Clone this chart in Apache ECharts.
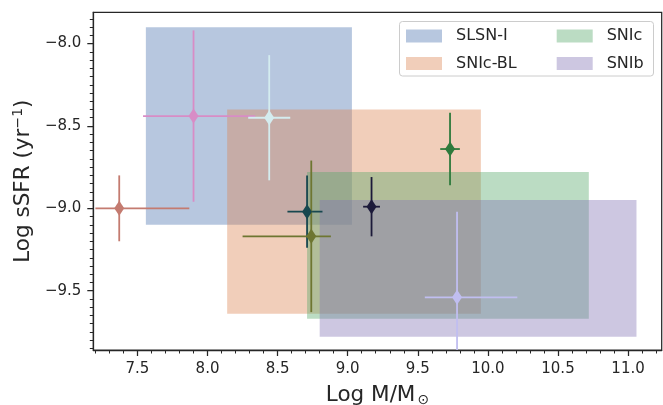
<!DOCTYPE html>
<html>
<head>
<meta charset="utf-8">
<script src="https://cdn.jsdelivr.net/npm/echarts@6/dist/echarts.min.js"></script>
<style>
  html, body { margin: 0; padding: 0; background: #fff; }
  #chart { width: 663px; height: 405px; }
</style>
</head>
<body>
<div id="chart"></div>
<script>
// shaded regions per SN class
const regionNames = ['SLSN-I', 'SNIc-BL', 'SNIc', 'SNIb'];
const regionMassLo = [7.56, 8.14, 8.71, 8.80];
const regionMassHi = [9.03, 9.95, 10.72, 11.06];
const regionSsfrLo = [-9.10, -9.64, -9.67, -9.78];
const regionSsfrHi = [-7.90, -8.40, -8.78, -8.95];
const regionColors = ['rgba(76,114,176,0.4)', 'rgba(221,132,82,0.4)', 'rgba(85,168,104,0.4)', 'rgba(129,114,179,0.4)'];

// individual hosts with error bars
const pointMass = [7.37, 7.90, 8.44, 8.71, 8.74, 9.17, 9.73, 9.78];
const pointSsfr = [-9.00, -8.44, -8.45, -9.02, -9.17, -8.99, -8.64, -9.54];
const massErrLo = [0.17, 0.36, 0.15, 0.14, 0.49, 0.06, 0.07, 0.23];
const massErrHi = [0.50, 0.44, 0.15, 0.11, 0.14, 0.06, 0.07, 0.43];
const ssfrErrLo = [0.20, 0.52, 0.38, 0.22, 0.46, 0.18, 0.22, 0.52];
const ssfrErrHi = [0.20, 0.52, 0.38, 0.22, 0.46, 0.18, 0.22, 0.52];
const pointColors = ['#c47b70', '#d88cc6', '#d4ecef', '#17474f', '#6e7631', '#1c1a3a', '#2e7a3c', '#c0bef0'];

// ticks
const xTickLabels = [7.5, 8.0, 8.5, 9.0, 9.5, 10.0, 10.5, 11.0];
const yTickLabels = [-9.5, -9.0, -8.5, -8.0];
const xRange = [7.185, 11.24];
const yRange = [-9.86, -7.81];

const xMinor = [];
for (let v = 72; v <= 112; v++) xMinor.push(v / 10);
const yMinor = [];
for (let v = -197; v <= -157; v++) yMinor.push(v / 20);

const ink = '#262626';
const font = 'DejaVu Sans, sans-serif';
const fmt = v => v.toFixed(1).replace('-', '\u2212');

const chart = echarts.init(document.getElementById('chart'));

const regionSeries = regionNames.map((name, i) => ({
  name,
  type: 'custom',
  z: 1,
  itemStyle: { color: regionColors[i] },
  encode: { x: [0, 2], y: [1, 3] },
  data: [[regionMassLo[i], regionSsfrLo[i], regionMassHi[i], regionSsfrHi[i]]],
  renderItem: (params, api) => {
    const p0 = api.coord([api.value(0), api.value(3)]);
    const p1 = api.coord([api.value(2), api.value(1)]);
    return {
      type: 'rect',
      shape: { x: p0[0], y: p0[1], width: p1[0] - p0[0], height: p1[1] - p0[1] },
      style: { fill: api.visual('color') }
    };
  }
}));

const barData = pointMass.map((m, i) => [
  m, pointSsfr[i],
  m - massErrLo[i], m + massErrHi[i],
  pointSsfr[i] - ssfrErrLo[i], pointSsfr[i] + ssfrErrHi[i]
]);

const errorSeries = {
  type: 'custom',
  z: 3,
  silent: true,
  data: barData,
  encode: { x: 0, y: 1 },
  renderItem: (params, api) => {
    const cs = params.coordSys;
    const rect = { x: cs.x, y: cs.y, width: cs.width, height: cs.height };
    const x = api.value(0), y = api.value(1);
    const h = echarts.graphic.clipPointsByRect([api.coord([api.value(2), y]), api.coord([api.value(3), y])], rect);
    const v = echarts.graphic.clipPointsByRect([api.coord([x, api.value(4)]), api.coord([x, api.value(5)])], rect);
    const color = pointColors[params.dataIndex];
    return {
      type: 'group',
      children: [
        { type: 'line', shape: { x1: h[0][0], y1: h[0][1], x2: h[1][0], y2: h[1][1] }, style: { stroke: color, lineWidth: 1.8 } },
        { type: 'line', shape: { x1: v[0][0], y1: v[0][1], x2: v[1][0], y2: v[1][1] }, style: { stroke: color, lineWidth: 1.8 } }
      ]
    };
  }
};

const markerSeries = {
  type: 'scatter',
  z: 4,
  symbol: 'diamond',
  symbolSize: [10, 15],
  data: pointMass.map((m, i) => ({ value: [m, pointSsfr[i]], itemStyle: { color: pointColors[i], opacity: 1 } }))
};

const legendBase = {
  orient: 'vertical',
  top: 28,
  itemWidth: 36,
  itemHeight: 13,
  itemGap: 11.5,
  padding: 0,
  icon: 'rect',
  textStyle: { fontFamily: font, fontSize: 16, color: ink, padding: [0, 0, 0, 9] }
};

chart.setOption({
  animation: false,
  backgroundColor: '#fff',
  textStyle: { fontFamily: font },
  grid: {
    left: 93.3, right: 1.3, top: 12.3, bottom: 55,
    containLabel: false, outerBoundsMode: 'none',
    show: true, borderColor: ink, borderWidth: 1.25, backgroundColor: 'transparent'
  },
  graphic: [{
    type: 'rect', z: 10,
    shape: { x: 399.5, y: 21.5, width: 254, height: 54.5, r: 3 },
    style: { fill: 'rgba(255,255,255,0.8)', stroke: '#cccccc', lineWidth: 1 }
  }],
  legend: [
    Object.assign({}, legendBase, { left: 406, data: ['SLSN-I', 'SNIc-BL'], z: 20 }),
    Object.assign({}, legendBase, { left: 556.7, data: ['SNIc', 'SNIb'], z: 20 })
  ],
  xAxis: [{
    type: 'value', position: 'bottom',
    min: xRange[0], max: xRange[1],
    name: 'Log M/M{sub|\u2299}',
    nameLocation: 'middle', nameGap: 33,
    nameTextStyle: {
      fontFamily: font, fontSize: 21.5, color: ink,
      rich: { sub: { fontFamily: font, fontSize: 14, color: ink, verticalAlign: 'bottom', padding: [10, 0, 0, 2] } }
    },
    axisLine: { lineStyle: { color: ink, width: 1.25 } },
    axisTick: { customValues: xTickLabels, length: 6, lineStyle: { color: ink, width: 1.25 } },
    axisLabel: { customValues: xTickLabels, formatter: fmt, fontFamily: font, fontSize: 15, color: ink, margin: 12 },
    splitLine: { show: false }
  }, {
    type: 'value', position: 'bottom',
    min: xRange[0], max: xRange[1],
    axisLine: { show: false },
    axisTick: { customValues: xMinor, length: 3.5, lineStyle: { color: ink, width: 1 } },
    axisLabel: { show: false },
    splitLine: { show: false }
  }],
  yAxis: [{
    type: 'value', position: 'left',
    min: yRange[0], max: yRange[1],
    name: 'Log sSFR (yr{sup|\u22121})',
    nameLocation: 'middle', nameGap: 58, nameRotate: 90,
    nameTextStyle: {
      fontFamily: font, fontSize: 21.5, color: ink,
      rich: { sup: { fontFamily: font, fontSize: 14, color: ink, verticalAlign: 'top', padding: [0, 0, 10, 0] } }
    },
    axisLine: { lineStyle: { color: ink, width: 1.25 } },
    axisTick: { customValues: yTickLabels, length: 6, lineStyle: { color: ink, width: 1.25 } },
    axisLabel: { customValues: yTickLabels, formatter: fmt, fontFamily: font, fontSize: 15, color: ink, margin: 12 },
    splitLine: { show: false }
  }, {
    type: 'value', position: 'left',
    min: yRange[0], max: yRange[1],
    axisLine: { show: false },
    axisTick: { customValues: yMinor, length: 3.5, lineStyle: { color: ink, width: 1 } },
    axisLabel: { show: false },
    splitLine: { show: false }
  }],
  series: regionSeries.concat([errorSeries, markerSeries])
});
</script>
</body>
</html>
